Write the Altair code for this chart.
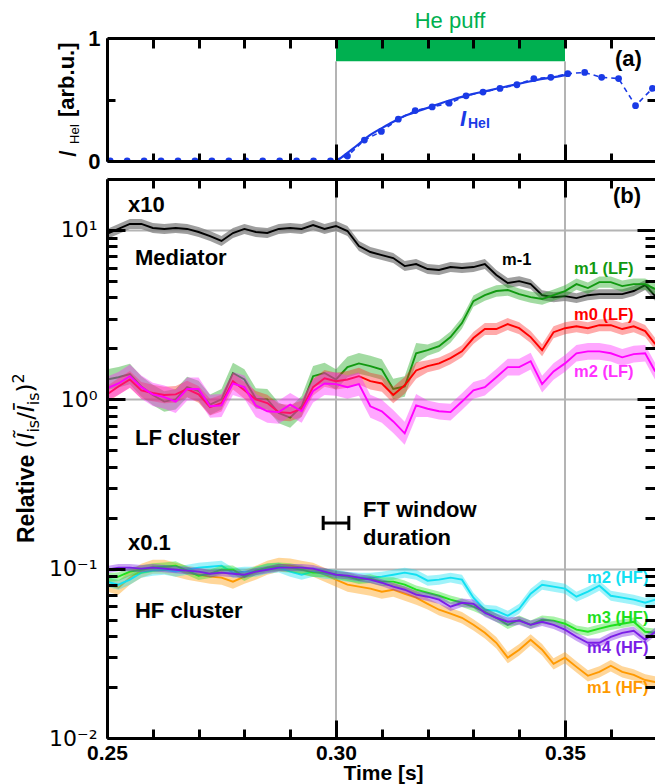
import altair as alt
import pandas as pd

# ---------------------------------------------------------------------------
# Panel (b): relative fluctuation power of the mode clusters (shared time base)
# ---------------------------------------------------------------------------
t_b = [0.2500, 0.2525, 0.2550, 0.2575, 0.2600, 0.2625, 0.2650, 0.2675, 0.2700, 0.2725,
       0.2750, 0.2775, 0.2800, 0.2825, 0.2850, 0.2875, 0.2900, 0.2925, 0.2950, 0.2975,
       0.3000, 0.3025, 0.3050, 0.3075, 0.3100, 0.3125, 0.3150, 0.3175, 0.3200, 0.3225,
       0.3250, 0.3275, 0.3300, 0.3325, 0.3350, 0.3375, 0.3400, 0.3425, 0.3450, 0.3475,
       0.3500, 0.3525, 0.3550, 0.3575, 0.3600, 0.3625, 0.3650, 0.3675, 0.3697]

mediator = [9.47, 10.14, 10.85, 10.85, 10.28, 10.14, 10.28, 10.14, 9.73, 9.21,
            8.61, 9.60, 10.14, 9.73, 9.60, 10.14, 10.28, 10.14, 10.70, 10.14,
            10.56, 9.86, 8.04, 7.41, 7.11, 6.83, 6.12, 6.29, 5.88, 5.80,
            6.04, 5.96, 6.04, 6.29, 5.42, 4.86, 4.99, 4.79, 4.12, 4.01,
            4.07, 3.96, 4.12, 4.18, 4.18, 4.18, 4.36, 4.73, 4.07]

m1_lf = [1.31, 1.35, 1.41, 1.19, 1.06, 0.97, 1.00, 1.18, 1.12, 0.93,
         1.00, 1.43, 1.31, 1.01, 1.00, 0.83, 0.78, 0.91, 1.37, 1.43,
         1.31, 1.55, 1.63, 1.57, 1.50, 1.15, 1.19, 1.87, 1.95, 2.06,
         2.33, 2.82, 3.80, 4.12, 4.36, 4.42, 4.18, 4.01, 3.91, 4.12,
         4.36, 4.79, 4.54, 4.92, 4.92, 4.66, 4.79, 4.79, 4.48]

m0_lf = [1.07, 1.19, 1.31, 1.13, 1.09, 1.06, 1.07, 1.15, 1.07, 0.90,
         0.95, 1.28, 1.13, 1.00, 0.95, 0.84, 0.83, 0.88, 1.18, 1.33,
         1.28, 1.31, 1.37, 1.28, 1.24, 1.06, 1.21, 1.48, 1.57, 1.63,
         1.75, 1.92, 2.30, 2.60, 2.60, 2.78, 2.63, 2.33, 1.95, 2.49,
         2.63, 2.70, 2.63, 2.74, 2.74, 2.60, 2.70, 2.53, 2.12]

m2_lf = [1.16, 1.24, 1.37, 1.18, 1.07, 1.03, 0.97, 1.15, 1.15, 0.91,
         0.92, 1.24, 1.18, 0.92, 0.85, 0.84, 0.93, 0.85, 1.12, 1.24,
         1.23, 1.18, 1.23, 0.91, 0.85, 0.74, 0.63, 0.92, 0.88, 0.85,
         0.84, 0.97, 1.13, 1.18, 1.35, 1.55, 1.55, 1.68, 1.23, 1.46,
         1.63, 1.87, 1.92, 1.92, 1.87, 1.77, 1.85, 1.87, 1.46]

m1_hf = [0.0804, 0.0772, 0.0885, 0.0973, 0.1027, 0.1027, 0.0986, 0.0947, 0.0921, 0.0897,
         0.0885, 0.0838, 0.0897, 0.0947, 0.1014, 0.1056, 0.1042, 0.1014, 0.0986, 0.0921,
         0.0861, 0.0804, 0.0783, 0.0762, 0.0731, 0.0751, 0.0711, 0.0674, 0.0620, 0.0572,
         0.0542, 0.0513, 0.0466, 0.0418, 0.0365, 0.0298, 0.0332, 0.0380, 0.0332, 0.0274,
         0.0298, 0.0263, 0.0233, 0.0246, 0.0267, 0.0246, 0.0236, 0.0220, 0.0214]

m2_hf = [0.0838, 0.0804, 0.0861, 0.0947, 0.0973, 0.0986, 0.0960, 0.0986, 0.1014, 0.1027,
         0.1042, 0.0947, 0.0960, 0.0960, 0.1000, 0.1014, 0.0960, 0.0921, 0.0960, 0.0934,
         0.0921, 0.0897, 0.0885, 0.0885, 0.0897, 0.0921, 0.0947, 0.0921, 0.0849, 0.0861,
         0.0885, 0.0861, 0.0674, 0.0572, 0.0564, 0.0527, 0.0580, 0.0711, 0.0804, 0.0783,
         0.0762, 0.0683, 0.0731, 0.0793, 0.0692, 0.0674, 0.0656, 0.0629, 0.0656]

m3_hf = [0.0885, 0.0897, 0.0960, 0.0986, 0.1014, 0.1027, 0.1042, 0.0973, 0.0909, 0.0934,
         0.0986, 0.0986, 0.0897, 0.0973, 0.1014, 0.1027, 0.1014, 0.0986, 0.0947, 0.0947,
         0.0921, 0.0897, 0.0861, 0.0873, 0.0838, 0.0838, 0.0804, 0.0751, 0.0721, 0.0692,
         0.0656, 0.0629, 0.0596, 0.0556, 0.0513, 0.0466, 0.0499, 0.0466, 0.0499, 0.0493,
         0.0473, 0.0436, 0.0424, 0.0442, 0.0460, 0.0473, 0.0486, 0.0424, 0.0418]

m4_hf = [0.0986, 0.1014, 0.1014, 0.1000, 0.1014, 0.1000, 0.0986, 0.0973, 0.0960, 0.0934,
         0.0947, 0.0934, 0.0921, 0.0960, 0.0986, 0.1014, 0.1014, 0.1014, 0.1000, 0.0960,
         0.0921, 0.0909, 0.0885, 0.0861, 0.0826, 0.0783, 0.0751, 0.0702, 0.0683, 0.0656,
         0.0596, 0.0629, 0.0620, 0.0549, 0.0513, 0.0486, 0.0493, 0.0466, 0.0486, 0.0466,
         0.0436, 0.0396, 0.0365, 0.0365, 0.0396, 0.0418, 0.0430, 0.0380, 0.0424]

# multiplicative half-width of the uncertainty band (before / after band_split)
band_split = 0.318
band_spread = {
    "mediator": (1.07, 1.07),
    "m1_lf": (1.15, 1.08),
    "m0_lf": (1.12, 1.085),
    "m2_lf": (1.17, 1.12),
    "m1_hf": (1.10, 1.08),
    "m2_hf": (1.07, 1.07),
    "m3_hf": (1.06, 1.06),
    "m4_hf": (1.05, 1.06),
}

# ---------------------------------------------------------------------------
# Panel (a): HeI line intensity
# ---------------------------------------------------------------------------
t_hei = [0.2507, 0.2544, 0.2581, 0.2618, 0.2655, 0.2692, 0.2729, 0.2766, 0.2803, 0.2840,
         0.2877, 0.2914, 0.2951, 0.2988, 0.3025, 0.3062, 0.3099, 0.3136, 0.3173, 0.3210,
         0.3247, 0.3284, 0.3321, 0.3358, 0.3395, 0.3432, 0.3469, 0.3506, 0.3543, 0.3580,
         0.3617, 0.3654, 0.3691]
i_hei = [0.0, 0.0, 0.0, 0.0, 0.0, 0.0, 0.0, 0.0, 0.0, 0.0,
         0.0, 0.0, 0.0, 0.0, 0.04, 0.17, 0.24, 0.34, 0.41, 0.44,
         0.47, 0.53, 0.56, 0.59, 0.62, 0.67, 0.68, 0.71, 0.72, 0.68,
         0.67, 0.45, 0.59]
t_fit = [0.3002, 0.3037, 0.3074, 0.3111, 0.3146, 0.3183, 0.3221, 0.3255,
         0.3293, 0.3330, 0.3365, 0.3402, 0.3439, 0.3474, 0.3504]
i_fit = [0.0, 0.10, 0.21, 0.29, 0.36, 0.41, 0.46, 0.50,
         0.54, 0.57, 0.60, 0.63, 0.66, 0.68, 0.70]

puff_t = [0.30, 0.35]          # He puff start / end [s]
puff_bar = [0.81, 1.0]         # vertical extent of the puff marker in panel (a)
ft_window = [0.2972, 0.3028]   # FT window duration marker [s]
ft_level = 0.186
ft_cap = [0.169, 0.205]

x_major = [0.25, 0.30, 0.35]
x_minor = [0.26, 0.27, 0.28, 0.29, 0.31, 0.32, 0.33, 0.34, 0.36]
y_major = [0.01, 0.1, 1, 10]
y_minor = [0.02, 0.03, 0.04, 0.05, 0.06, 0.07, 0.08, 0.09,
           0.2, 0.3, 0.4, 0.5, 0.6, 0.7, 0.8, 0.9,
           2, 3, 4, 5, 6, 7, 8, 9]

# ---------------------------------------------------------------------------
# Layout: one view holding both panels, each with its own y range
# ---------------------------------------------------------------------------
W, H = 548, 700
A_BOTTOM = 123      # zero line of panel (a)
B_TOP = 141         # upper frame of panel (b)

SANS = "Liberation Sans"
MATH = "DejaVu Sans"
BLUE = "#1a3ae6"

xs = alt.Scale(domain=[0.25, 0.36965], nice=False, zero=False)
ya = alt.Scale(domain=[0, 1], range=[A_BOTTOM, 0], nice=False, zero=False)
yb = alt.Scale(type="log", domain=[0.01, 20], range=[H, B_TOP], nice=False)


def X(field="t"):
    return alt.X(f"{field}:Q", scale=xs, axis=None)


def Yb(field):
    return alt.Y(f"{field}:Q", scale=yb, axis=None)


def Ya(field):
    return alt.Y(f"{field}:Q", scale=ya, axis=None)


layers = []

# vertical guide lines at puff start / end
guides_b = pd.DataFrame({"t": puff_t, "lo": [0.01, 0.01], "hi": [20, 20]})
layers.append(alt.Chart(guides_b).mark_rule(color="#b4b4b4", strokeWidth=2).encode(
    x=X(), y=Yb("lo"), y2="hi:Q"))
guides_a = pd.DataFrame({"t": puff_t, "lo": [0, 0], "hi": [puff_bar[0]] * 2})
layers.append(alt.Chart(guides_a).mark_rule(color="#b4b4b4", strokeWidth=2).encode(
    x=X(), y=Ya("lo"), y2="hi:Q"))

# ---- panel (b) traces with shaded bands
series = [
    ("mediator", mediator, "#000000", "#7f7f7f", 0.75),
    ("m1_lf", m1_lf, "#119911", "#22aa22", 0.42),
    ("m0_lf", m0_lf, "#ff0000", "#ff2020", 0.38),
    ("m2_lf", m2_lf, "#ff00ff", "#ff22ff", 0.40),
    ("m1_hf", m1_hf, "#ff9900", "#ff9900", 0.40),
    ("m2_hf", m2_hf, "#12e0f2", "#12e0f2", 0.40),
    ("m3_hf", m3_hf, "#1ee01e", "#1ee01e", 0.38),
    ("m4_hf", m4_hf, "#7a1ee6", "#7a1ee6", 0.40),
]
for key, vals, line_c, band_c, band_op in series:
    early, late = band_spread[key]
    spread = [early if t < band_split else late for t in t_b]
    df = pd.DataFrame({
        "t": t_b, "v": vals,
        "lo": [v / s for v, s in zip(vals, spread)],
        "hi": [v * s for v, s in zip(vals, spread)],
    })
    layers.append(alt.Chart(df).mark_area(color=band_c, opacity=band_op, clip=True).encode(
        x=X(), y=Yb("lo"), y2="hi:Q"))
    layers.append(alt.Chart(df).mark_line(color=line_c, strokeWidth=1.9, clip=True).encode(
        x=X(), y=Yb("v")))

# FT window duration marker
ft_bar = pd.DataFrame({"t": [ft_window[0]], "t2": [ft_window[1]], "v": [ft_level]})
layers.append(alt.Chart(ft_bar).mark_rule(color="black", strokeWidth=3).encode(
    x=X(), x2="t2:Q", y=Yb("v")))
ft_caps = pd.DataFrame({"t": ft_window, "lo": [ft_cap[0]] * 2, "hi": [ft_cap[1]] * 2})
layers.append(alt.Chart(ft_caps).mark_rule(color="black", strokeWidth=3).encode(
    x=X(), y=Yb("lo"), y2="hi:Q"))

# panel (b) annotations
notes_b = pd.DataFrame({
    "t": [0.25459, 0.25611, 0.25611, 0.25459, 0.25611, 0.30590, 0.30590, 0.36048],
    "v": [12.8, 6.21, 0.537, 0.129, 0.0511, 0.2018, 0.138, 14.4],
    "s": ["x10", "Mediator", "LF cluster", "x0.1", "HF cluster", "FT window", "duration", "(b)"],
})
layers.append(alt.Chart(notes_b).mark_text(
    font=SANS, fontSize=22, fontWeight="bold", color="black",
    align="left", baseline="alphabetic").encode(x=X(), y=Yb("v"), text="s:N"))

labels_b = pd.DataFrame({
    "t": [0.33624, 0.35197, 0.35197, 0.35197, 0.35480, 0.35480, 0.35480, 0.35480],
    "v": [6.21, 5.50, 2.94, 1.355, 0.0822, 0.0477, 0.0318, 0.01845],
    "s": ["m-1", "m1 (LF)", "m0 (LF)", "m2 (LF)", "m2 (HF)", "m3 (HF)", "m4 (HF)", "m1 (HF)"],
    "c": ["#000000", "#119911", "#ff0000", "#ff33ff", "#12e0f2", "#1ee01e", "#7a1ee6", "#ff9900"],
})
layers.append(alt.Chart(labels_b).mark_text(
    font=SANS, fontSize=16.5, fontWeight="bold", align="left", baseline="alphabetic").encode(
    x=X(), y=Yb("v"), text="s:N", color=alt.Color("c:N", scale=None)))

# ---- panel (a)
bar = pd.DataFrame({"t": [puff_t[0]], "t2": [puff_t[1]], "lo": [puff_bar[0]], "hi": [puff_bar[1]]})
layers.append(alt.Chart(bar).mark_rect(color="#00b050").encode(
    x=X(), x2="t2:Q", y=Ya("lo"), y2="hi:Q"))

hei = pd.DataFrame({"t": t_hei, "v": i_hei})
layers.append(alt.Chart(hei).mark_line(color=BLUE, strokeWidth=1.6, strokeDash=[5, 4], clip=True).encode(
    x=X(), y=Ya("v")))
layers.append(alt.Chart(hei).mark_circle(color=BLUE, size=46, opacity=1, clip=True).encode(
    x=X(), y=Ya("v")))
fit = pd.DataFrame({"t": t_fit, "v": i_fit})
layers.append(alt.Chart(fit).mark_line(color=BLUE, strokeWidth=2.2, interpolate="monotone", clip=True).encode(
    x=X(), y=Ya("v")))

# white gap between the two panels keeps panel (a) markers inside its frame
layers.append(alt.Chart(pd.DataFrame({"k": [0]})).mark_rect(color="white").encode(
    x=alt.value(0), x2=alt.value(W), y=alt.value(A_BOTTOM + 1.5), y2=alt.value(B_TOP - 1.5)))

layers.append(alt.Chart(pd.DataFrame({"t": [0.32489], "v": [1.081], "s": ["He puff"]})).mark_text(
    font=SANS, fontSize=22, color="#00b050", align="center", baseline="alphabetic").encode(
    x=X(), y=Ya("v"), text="s:N"))
layers.append(alt.Chart(pd.DataFrame({"t": [0.36092], "v": [0.772], "s": ["(a)"]})).mark_text(
    font=SANS, fontSize=22, fontWeight="bold", color="black", align="left", baseline="alphabetic").encode(
    x=X(), y=Ya("v"), text="s:N"))
layers.append(alt.Chart(pd.DataFrame({"t": [0.32707], "v": [0.285], "s": ["I"]})).mark_text(
    font=SANS, fontSize=22, fontWeight="bold", fontStyle="italic", color=BLUE,
    align="left", baseline="alphabetic").encode(x=X(), y=Ya("v"), text="s:N"))
layers.append(alt.Chart(pd.DataFrame({"t": [0.32882], "v": [0.268], "s": ["HeI"]})).mark_text(
    font=SANS, fontSize=14, fontWeight="bold", color=BLUE,
    align="left", baseline="alphabetic").encode(x=X(), y=Ya("v"), text="s:N"))


# ---- rotated axis titles built from pieces (sub/superscripts)
def rot_text(s, x, y, font, size, weight="normal", style="normal"):
    return alt.Chart(pd.DataFrame({"s": [s]})).mark_text(
        font=font, fontSize=size, fontWeight=weight, fontStyle=style, color="black",
        angle=270, align="left", baseline="alphabetic").encode(
        text="s:N", x=alt.value(x), y=alt.value(y))


layers += [
    rot_text("I", -31, 119, MATH, 23, style="italic"),
    rot_text("HeI", -28, 106, SANS, 13),
    rot_text("[arb.u.]", -33, 79, SANS, 22, weight="bold"),
    rot_text("Relative", -73, 505, SANS, 23, weight="bold"),
    rot_text("(", -73, 410.4, MATH, 23),
    rot_text("\u0128", -73, 401.4, MATH, 23, style="italic"),
    rot_text("is", -68, 394.6, MATH, 16),
    rot_text("/", -73, 381.8, MATH, 23),
    rot_text("\u012a", -73, 374.0, MATH, 23, style="italic"),
    rot_text("is", -68, 367.2, MATH, 16),
    rot_text(")", -73, 354.4, MATH, 23),
    rot_text("2", -83, 345.4, MATH, 16),
]


# ---- axes: frame lines, inward ticks, labels
def ax(**kw):
    base = dict(labels=False, ticks=False, domain=False, grid=False, title=None,
                tickColor="black", tickWidth=3, domainColor="black", domainWidth=3,
                zindex=2)
    base.update(kw)
    return alt.Axis(**base)


x_all = sorted(x_major + x_minor)
log_labels = ("datum.value >= 5 ? '10\u00b9' : datum.value >= 0.5 ? '10\u2070' : "
              "datum.value >= 0.05 ? '10\u207b\u00b9' : '10\u207b\u00b2'")

xa_time = ax(orient="bottom", values=x_major, labels=True, format=".2f", labelFont=SANS,
             labelFontSize=21, labelFontWeight="bold", labelColor="black", labelPadding=4,
             labelFlush=False, tickSize=0, domain=True, title="Time [s]", titleFont=SANS,
             titleFontSize=21, titleFontWeight="bold", titleColor="black", titleX=276,
             titleY=41, titleAlign="center", titleBaseline="alphabetic")
yb_grid = ax(orient="left", values=[0.1, 1, 10], grid=True, gridColor="#b4b4b4",
             gridWidth=2, tickSize=0, zindex=0)
yb_main = ax(orient="left", values=y_major, labels=True, labelExpr=log_labels,
             labelFont=MATH, labelFontSize=22, labelColor="black", labelPadding=10,
             tickSize=0, domain=True)
ya_main = ax(orient="left", values=[0, 1], labels=True, format="d", labelFont=SANS,
             labelFontSize=22, labelFontWeight="bold", labelColor="black", labelPadding=7,
             labelFlush=False, tickSize=0, domain=True)

axis_pairs = [
    (xa_time, yb_grid, yb),
    (ax(orient="top", offset=-H, values=x_major, ticks=True, tickSize=18), yb_main, yb),
    (ax(orient="top", offset=-H, values=x_minor, ticks=True, tickSize=9),
     ax(orient="right", offset=-W, values=y_major, ticks=True, tickSize=18), yb),
    (ax(orient="bottom", offset=-(H - B_TOP), values=x_major, ticks=True, tickSize=18, domain=True),
     ax(orient="right", offset=-W, values=y_minor, ticks=True, tickSize=10), yb),
    (ax(orient="bottom", offset=-(H - B_TOP), values=x_minor, ticks=True, tickSize=9),
     ax(orient="left", offset=-W, values=y_major, ticks=True, tickSize=18), yb),
    (None, ax(orient="left", offset=-W, values=y_minor, ticks=True, tickSize=10), yb),
    (ax(orient="bottom", offset=-H, values=x_all, ticks=True, tickSize=10, domain=True),
     ya_main, ya),
    (ax(orient="top", offset=-A_BOTTOM, values=x_major, ticks=True, tickSize=17, domain=True),
     ax(orient="right", offset=-W, values=[0.5], ticks=True, tickSize=8), ya),
    (ax(orient="top", offset=-A_BOTTOM, values=x_minor, ticks=True, tickSize=8),
     ax(orient="left", offset=-W, values=[0.5], ticks=True, tickSize=8), ya),
]
carrier = pd.DataFrame({"t": [0.30], "v": [1.0]})
for x_axis, y_axis, ysc in axis_pairs:
    layers.append(alt.Chart(carrier).mark_point(opacity=0).encode(
        x=alt.X("t:Q", scale=xs, axis=x_axis),
        y=alt.Y("v:Q", scale=ysc, axis=y_axis)))

chart = (
    alt.layer(*layers)
    .resolve_scale(y="independent")
    .resolve_axis(x="independent", y="independent")
    .properties(width=W, height=H,
                padding={"left": 107, "top": 38, "right": 0, "bottom": 46},
                autosize=alt.AutoSizeParams(type="none"))
    .configure_view(strokeOpacity=0)
    .configure(background="white")
)

chart.save("out.html", embed_options={"renderer": "svg", "actions": False})
